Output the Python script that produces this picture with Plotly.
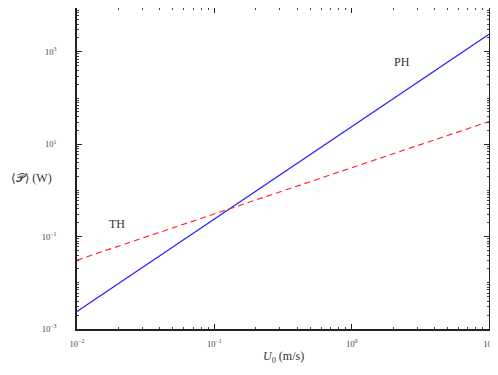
import plotly.graph_objects as go

# flow speed U0 (m/s) and mean power <P> (W)
u0 = [0.01, 0.1, 1, 10]
power_ph = [0.0024, 0.24, 24, 2400]
power_th = [0.031, 0.31, 3.1, 31]

x_ticks = [0.01, 0.1, 1, 10]
x_ticktext = ["10<sup>−2</sup>", "10<sup>−1</sup>", "10<sup>0</sup>", "10<sup>1</sup>"]
y_ticks = [0.001, 0.1, 10, 1000]
y_ticktext = ["10<sup>−3</sup>", "10<sup>−1</sup>", "10<sup>1</sup>", "10<sup>3</sup>"]

serif = "Liberation Serif, DejaVu Serif, serif"

fig = go.Figure()
fig.add_trace(go.Scatter(x=u0, y=power_ph, mode="lines", name="PH",
                         line=dict(color="#1f1fff", width=1.1)))
fig.add_trace(go.Scatter(x=u0, y=power_th, mode="lines", name="TH",
                         line=dict(color="#ff2020", width=1.1, dash="6px,4px")))

axis_common = dict(
    type="log", showgrid=False, zeroline=False, automargin=False,
    showline=True, linecolor="#222", linewidth=1.5, mirror="allticks",
    ticks="inside", ticklen=5, tickcolor="#222",
    minor=dict(ticks="inside", ticklen=2.5, tickcolor="#444", dtick="D1"),
    tickfont=dict(family=serif, size=8.5, color="#444"),
    ticklabeloverflow="allow",
)
fig.update_xaxes(axis_common, range=[-2, 1], tickvals=x_ticks, ticktext=x_ticktext,
                 ticklabelstandoff=6)
fig.update_yaxes(axis_common, range=[-3, 3.95], tickvals=y_ticks, ticktext=y_ticktext,
                 ticklabelstandoff=17)

fig.add_annotation(x=0.37, y=2.78, xref="x", yref="y", text="PH", showarrow=False,
                   font=dict(family=serif, size=12, color="#333"))
fig.add_annotation(x=-1.71, y=-0.73, xref="x", yref="y", text="TH", showarrow=False,
                   font=dict(family=serif, size=12, color="#333"))
fig.add_annotation(x=0.5, y=-0.087, xref="paper", yref="paper", yanchor="middle",
                   text="<i>U</i><sub>0</sub> (m/s)", showarrow=False,
                   font=dict(family=serif, size=12, color="#333"))
fig.add_annotation(x=-0.165, y=0.47, xref="paper", yref="paper", xanchor="left",
                   text="⟨𝒫⟩ (W)", showarrow=False,
                   font=dict(family=serif, size=12, color="#333"))

# the page body keeps its default 8px margin, so the figure is sized to fit inside it
fig.update_layout(
    width=482, height=359, showlegend=False,
    plot_bgcolor="white", paper_bgcolor="white",
    margin=dict(l=69, r=1, t=0, b=38),
)

fig.write_html("out.html")
